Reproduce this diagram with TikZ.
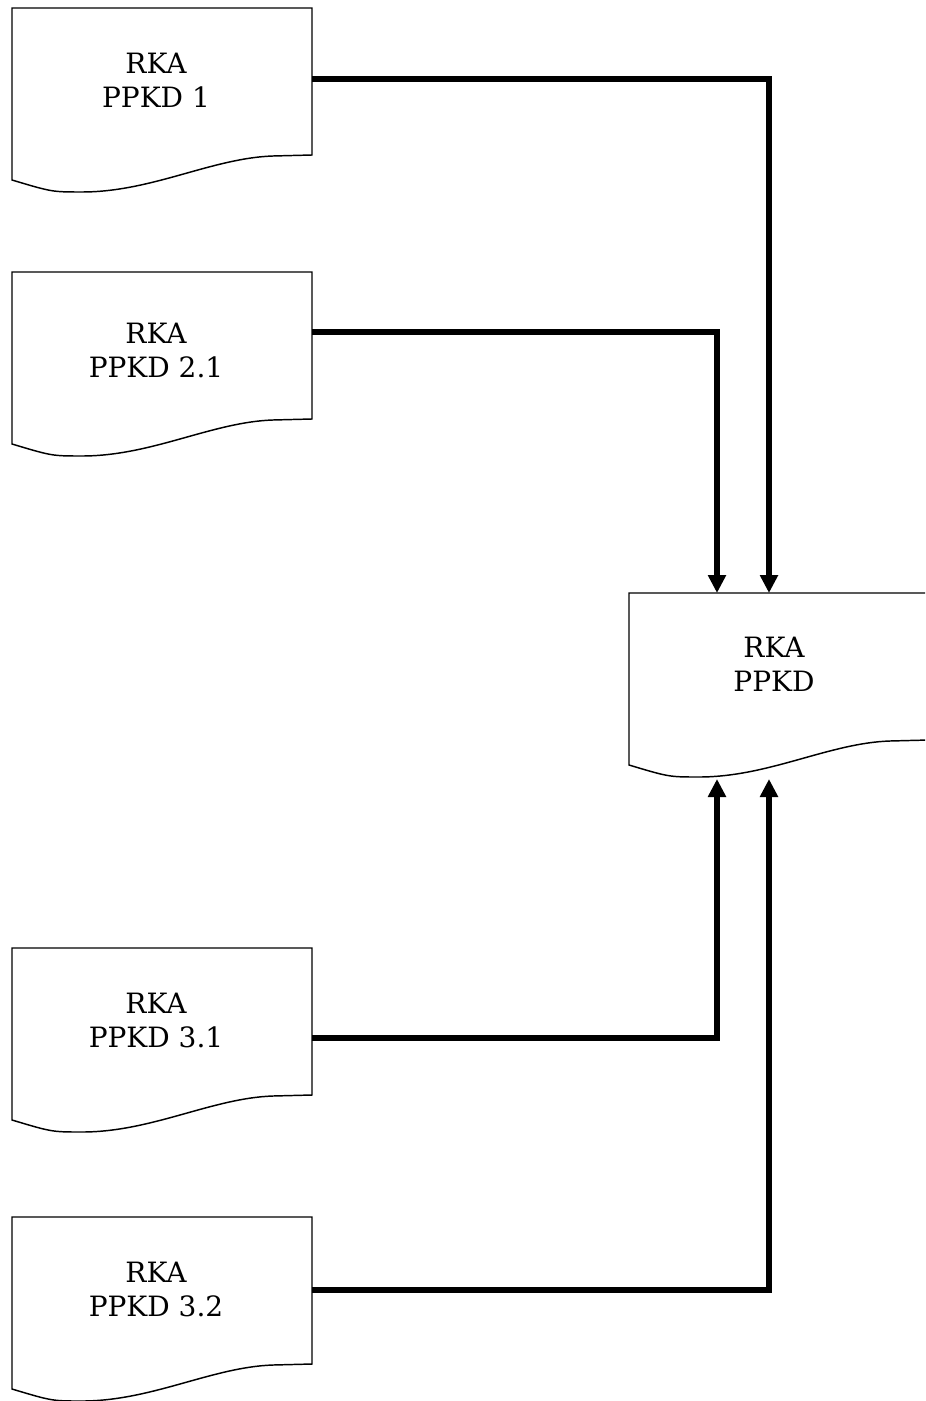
\documentclass[tikz,border=0pt]{standalone}
\usepackage{fontspec}
\setmainfont{DejaVu Serif}
\usetikzlibrary{arrows.meta,calc}
\tikzset{
  x=0.75pt, y=-0.75pt,
  docbox/.style={minimum width=225pt, minimum height=110.25pt, inner sep=0pt, outer sep=0pt, draw=none},
  doctext/.style={align=center, font=\fontsize{21}{25.5}\selectfont, inner sep=0pt},
  docline/.style={line width=1.1pt, line join=miter},
  conn/.style={line width=4pt, -{Triangle[length=13.5pt,width=13pt]}}
}
\newcommand\docframe[1]{%
  \draw[docline] (#1.north west) -- (#1.north east) -- (#1.south east)
    -- ($(#1.north west)+(261,148)$)
    .. controls ($(#1.north west)+(200,150)$) and ($(#1.north west)+(140,184)$) ..
    ($(#1.north west)+(70,184)$)
    .. controls ($(#1.north west)+(40,184)$) .. ($(#1.north west)+(0,172)$) -- cycle;}
\begin{document}
\begin{tikzpicture}
\fill[white] (0,0) rectangle (925,1401);
\path[use as bounding box] (0,0) rectangle (925,1401);
\clip (0,0) rectangle (925,1401);

% document boxes
\node[docbox] (b1)  at (162,81.5)   {};
\node[docbox] (b2)  at (162,345.5)  {};
\node[docbox] (b31) at (162,1021.5) {};
\node[docbox] (b32) at (162,1290.5) {};
\node[docbox] (c)   at (779,666.5)  {};

\docframe{b1}
\docframe{b2}
\docframe{b31}
\docframe{b32}
\docframe{c}

\node[doctext] (b1t)  at ($(b1.north west)+(144,72)$)  {RKA\\PPKD 1};
\node[doctext] (b2t)  at ($(b2.north west)+(144,78)$)  {RKA\\PPKD 2.1};
\node[doctext] (b31t) at ($(b31.north west)+(144,72)$) {RKA\\PPKD 3.1};
\node[doctext] (b32t) at ($(b32.north west)+(144,72)$) {RKA\\PPKD 3.2};
\node[doctext] (ct)   at ($(c.north west)+(145,71)$)   {RKA\\PPKD};

% entry points on the central document
\coordinate (cin1)  at ($(c.north west)+(140,0)$);
\coordinate (cin2)  at ($(c.north west)+(88,0)$);
\coordinate (cout1) at ($(c.north west)+(140,186)$);
\coordinate (cout2) at ($(c.north west)+(88,186)$);

\draw[conn] ($(b1.north east)+(0,71)$)  -| (cin1);
\draw[conn] ($(b2.north east)+(0,60)$)  -| (cin2);
\draw[conn] ($(b31.north east)+(0,90)$) -| (cout2);
\draw[conn] ($(b32.north east)+(0,73)$) -| (cout1);
\end{tikzpicture}
\end{document}
